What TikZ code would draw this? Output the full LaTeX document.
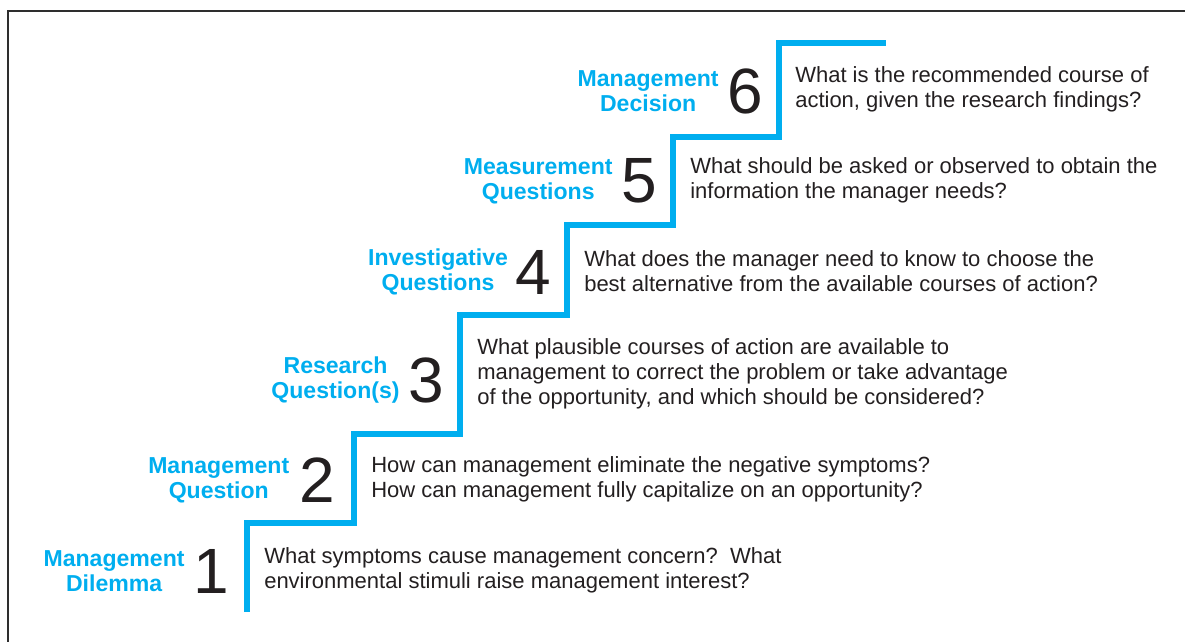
\documentclass[tikz,border=0pt]{standalone}
\usepackage{fontspec}
\setmainfont{Liberation Sans}
\usetikzlibrary{positioning}
\definecolor{stairblue}{HTML}{00AEEF}
\definecolor{textgray}{HTML}{231F20}
\definecolor{framegray}{HTML}{2E2E2E}
\begin{document}
\begin{tikzpicture}[x=0.75pt,y=-0.75pt,
    question/.style={anchor=west,inner sep=0pt,align=left,text=textgray,
      font=\fontsize{16.5}{18.75}\selectfont},
    stepnum/.style={anchor=east,inner sep=0pt,text=textgray,
      font=\fontsize{48}{48}\selectfont},
    steplabel/.style={inner sep=0pt,align=center,text=stairblue,
      font=\fontsize{17.3}{18.75}\selectfont\bfseries}]
            \useasboundingbox (0,0) rectangle (1185,642);

            % frame
            \coordinate (F1) at (8,642);
            \coordinate (F2) at (8,11);
            \coordinate (F3) at (1185,11);
            \draw[framegray,line width=2.2pt] (F1) -- (F2) -- (F3);

            % stair corners
            \coordinate (A) at (247,612);
            \coordinate (B) at (247,523);
            \coordinate (C) at (354,523);
            \coordinate (D) at (354,434);
            \coordinate (E) at (460,434);
            \coordinate (G) at (460,315);
            \coordinate (H) at (567,315);
            \coordinate (I) at (567,225);
            \coordinate (J) at (673,225);
            \coordinate (K) at (673,137);
            \coordinate (L) at (779,137);
            \coordinate (M) at (779,43);
            \coordinate (N) at (886,43);

            \draw[stairblue,line width=3.8pt,line join=miter]
              (A) -- (B) -- (C) -- (D) -- (E) -- (G) -- (H)
              -- (I) -- (J) -- (K) -- (L) -- (M) -- (N);

            % step 1
            \node[stepnum] (num1) at (229,571) {1};
            \node[steplabel,left=6pt of num1] (lab1) {Management\\Dilemma};
            \node[question] (q1) at (264,570)
              {What symptoms cause management concern?\ \ What\\
               environmental stimuli raise management interest?};

            % step 2
            \node[stepnum] (num2) at (335,480) {2};
            \node[steplabel,left=7pt of num2] (lab2) {Management\\Question};
            \node[question] (q2) at (371,479)
              {How can management eliminate the negative symptoms?\\
               How can management fully capitalize on an opportunity?};

            % step 3
            \node[stepnum] (num3) at (444,380) {3};
            \node[steplabel,left=6pt of num3] (lab3) {Research\\Question(s)};
            \node[question] (q3) at (477,374)
              {What plausible courses of action are available to\\
               management to correct the problem or take advantage\\
               of the opportunity, and which should be considered?};

            % step 4
            \node[stepnum] (num4) at (551,272) {4};
            \node[steplabel,left=5pt of num4] (lab4) {Investigative\\Questions};
            \node[question] (q4) at (584,271)
              {What does the manager need to know to choose the\\
               best alternative from the available courses of action?};

            % step 5
            \node[stepnum] (num5) at (657,181) {5};
            \node[steplabel,left=6pt of num5] (lab5) {Measurement\\Questions};
            \node[question] (q5) at (690,180)
              {What should be asked or observed to obtain the\\
               information the manager needs?};

            % step 6
            \node[stepnum] (num6) at (763,91) {6};
            \node[steplabel,left=6pt of num6] (lab6) {Management\\Decision};
            \node[question] (q6) at (795,89)
              {What is the recommended course of\\
               action, given the research findings?};
\end{tikzpicture}
\end{document}
